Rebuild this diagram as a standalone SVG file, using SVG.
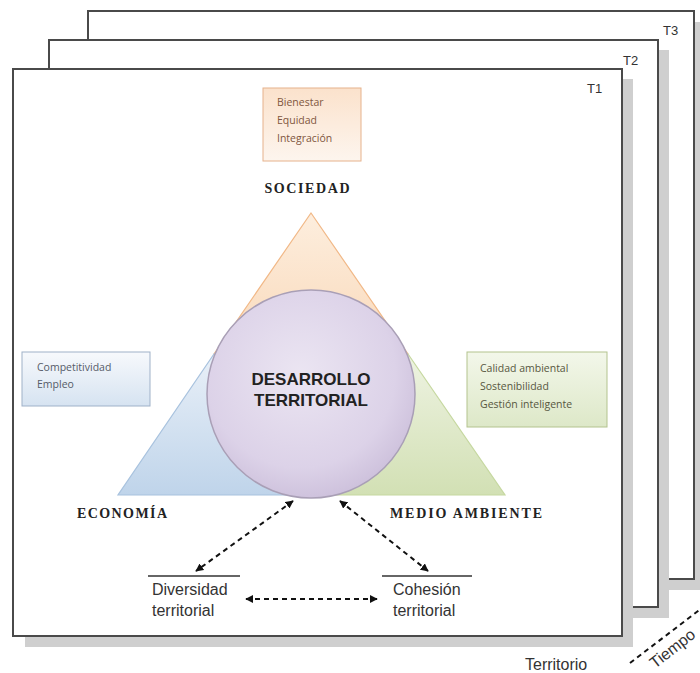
<svg xmlns="http://www.w3.org/2000/svg" width="700" height="673" viewBox="0 0 700 673">
<defs>
<style>
.frame{fill:#fff;stroke:#4a4a4a;stroke-width:2}
.shadow{fill:#cfcfcf}
.tlab{font-family:"Liberation Sans",Arial,sans-serif;font-size:13px;fill:#333}
.pillar{font-family:"Liberation Serif","Times New Roman",serif;font-weight:bold;font-size:14px;fill:#222}
.small{font-family:"Open Sans","Liberation Sans",sans-serif;font-size:10.5px}
.bottom{font-family:"Liberation Sans",Arial,sans-serif;font-size:16px;fill:#333}
.conn{fill:none;stroke:#111;stroke-width:2;stroke-dasharray:5 4}
</style>
<linearGradient id="gOr" x1="0" y1="0" x2="0" y2="1"><stop offset="0" stop-color="#fdeede"/><stop offset="1" stop-color="#f8d2ae"/></linearGradient>
<linearGradient id="gBl" x1="0" y1="0" x2="0" y2="1"><stop offset="0" stop-color="#e9f0f8"/><stop offset="1" stop-color="#bfd4ea"/></linearGradient>
<linearGradient id="gGr" x1="0" y1="0" x2="0" y2="1"><stop offset="0" stop-color="#eef3e2"/><stop offset="1" stop-color="#d2e0b4"/></linearGradient>
<linearGradient id="bOr" x1="0" y1="0" x2="0" y2="1"><stop offset="0" stop-color="#fbe2cc"/><stop offset="1" stop-color="#fdf5ee"/></linearGradient>
<linearGradient id="bBl" x1="0" y1="0" x2="0" y2="1"><stop offset="0" stop-color="#f7f9fc"/><stop offset="1" stop-color="#d6e3f1"/></linearGradient>
<linearGradient id="bGr" x1="0" y1="0" x2="0" y2="1"><stop offset="0" stop-color="#f3f7ea"/><stop offset="1" stop-color="#dde8c8"/></linearGradient>
<radialGradient id="gCi" cx="0.45" cy="0.4" r="0.65"><stop offset="0" stop-color="#ebe5f2"/><stop offset="0.7" stop-color="#dcd2e8"/><stop offset="1" stop-color="#cabdd9"/></radialGradient>
<marker id="ah" viewBox="0 0 10 10" refX="9" refY="5" markerWidth="4" markerHeight="4" orient="auto-start-reverse"><path d="M0,0 L10,5 L0,10 z" fill="#111"/></marker>
</defs>

<g id="frame-T3">
<rect class="shadow" x="100" y="22" width="605" height="568"/>
<rect class="frame" x="88" y="11" width="606" height="568"/>
<text class="tlab" x="663" y="35">T3</text>
</g>
<g id="frame-T2">
<rect class="shadow" x="60" y="50" width="609" height="568"/>
<rect class="frame" x="49" y="40" width="609" height="567"/>
<text class="tlab" x="623" y="65">T2</text>
</g>
<g id="frame-T1">
<rect class="shadow" x="25" y="79" width="608" height="568"/>
<rect class="frame" x="13" y="69" width="609" height="567"/>
<text class="tlab" x="587" y="93">T1</text>
</g>

<g id="triangle">
<polygon points="311,213 408,354 311,400 214,354" fill="url(#gOr)" stroke="#f1b887" stroke-width="1.2"/>
<polygon points="214,354 311,400 311,495 118,495" fill="url(#gBl)" stroke="#a8c2de" stroke-width="1.2"/>
<polygon points="408,354 505,495 311,495 311,400" fill="url(#gGr)" stroke="#c6d8a0" stroke-width="1.2"/>
</g>

<g id="desarrollo">
<circle cx="311" cy="394" r="104" fill="url(#gCi)" stroke="#a99fb6" stroke-width="1.5"/>
<text x="311" y="385" text-anchor="middle" font-family="Liberation Sans,Arial,sans-serif" font-weight="bold" font-size="17" fill="#222">DESARROLLO</text>
<text x="311" y="406" text-anchor="middle" font-family="Liberation Sans,Arial,sans-serif" font-weight="bold" font-size="17" fill="#222">TERRITORIAL</text>
</g>

<g id="sociedad">
<rect x="263" y="88" width="98" height="73" fill="url(#bOr)" stroke="#e6b28c" stroke-width="1"/>
<text class="small" fill="#7f5640"><tspan x="277" y="106">Bienestar</tspan><tspan x="277" y="124">Equidad</tspan><tspan x="277" y="142">Integración</tspan></text>
<text class="pillar" x="307" y="193" text-anchor="middle" textLength="85" lengthAdjust="spacing">SOCIEDAD</text>
</g>

<g id="economia">
<rect x="22" y="352" width="128" height="54" fill="url(#bBl)" stroke="#9fb1c8" stroke-width="1"/>
<text class="small" fill="#555b68"><tspan x="37" y="371">Competitividad</tspan><tspan x="37" y="388">Empleo</tspan></text>
<text class="pillar" x="77" y="518" textLength="90" lengthAdjust="spacing">ECONOMÍA</text>
</g>

<g id="medioambiente">
<rect x="467" y="352" width="140" height="75" fill="url(#bGr)" stroke="#b3c38e" stroke-width="1"/>
<text class="small" fill="#57573f"><tspan x="480" y="372">Calidad ambiental</tspan><tspan x="480" y="390">Sostenibilidad</tspan><tspan x="480" y="408">Gestión inteligente</tspan></text>
<text class="pillar" x="390" y="518" textLength="152" lengthAdjust="spacing">MEDIO AMBIENTE</text>
</g>

<g id="diversidad">
<line x1="148" y1="576" x2="240" y2="576" stroke="#333" stroke-width="1.5"/>
<text class="bottom"><tspan x="152" y="595">Diversidad</tspan><tspan x="152" y="616">territorial</tspan></text>
</g>

<g id="cohesion">
<line x1="382" y1="576" x2="472" y2="576" stroke="#333" stroke-width="1.5"/>
<text class="bottom"><tspan x="393" y="595">Cohesión</tspan><tspan x="393" y="616">territorial</tspan></text>
</g>

<g id="connectors">
<line class="conn" x1="293" y1="501" x2="196" y2="571" marker-start="url(#ah)" marker-end="url(#ah)"/>
<line class="conn" x1="340" y1="501" x2="428" y2="571" marker-start="url(#ah)" marker-end="url(#ah)"/>
<line class="conn" x1="246" y1="599" x2="377" y2="599" marker-start="url(#ah)" marker-end="url(#ah)"/>
<line class="conn" x1="630" y1="663" x2="702" y2="608"/>
</g>

<g id="axes">
<text class="bottom" x="525" y="670" font-size="15">Territorio</text>
<text class="bottom" x="0" y="0" font-size="14" transform="translate(655,669) rotate(-38)">Tiempo</text>
</g>
</svg>
